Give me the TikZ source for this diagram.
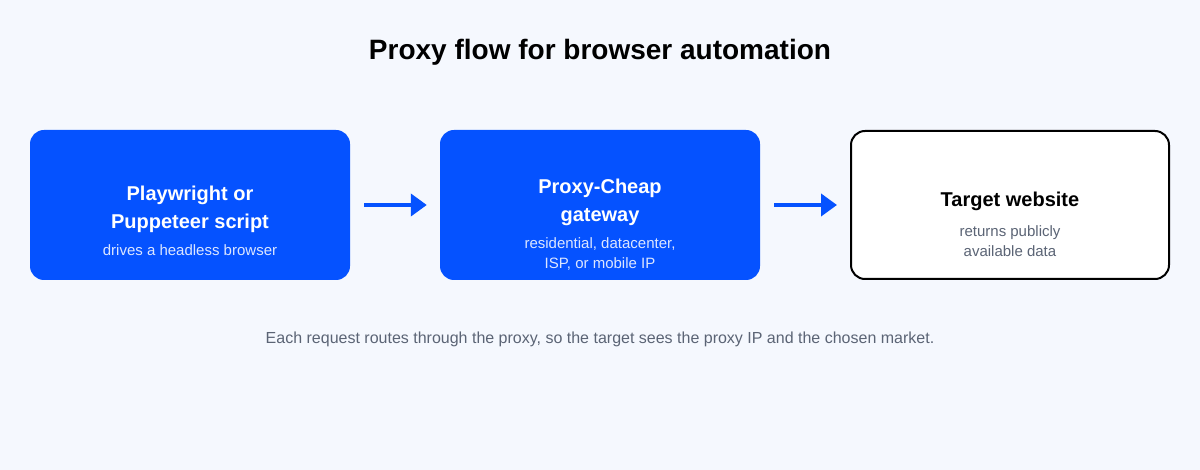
\documentclass[tikz,border=0pt]{standalone}
\usepackage{fontspec}
\setmainfont{Liberation Sans}
\usetikzlibrary{positioning,arrows.meta,calc}
\definecolor{flowblue}{HTML}{0552FF}
\definecolor{pagebg}{HTML}{F5F8FE}
\definecolor{subgrey}{HTML}{5B6475}
\definecolor{subpale}{HTML}{DCE6FF}
\begin{document}
\begin{tikzpicture}[x=1pt,y=-1pt,
    box/.style={rectangle, rounded corners=14pt, minimum width=320pt, minimum height=150pt, inner sep=0pt},
    bluebox/.style={box, fill=flowblue},
    whitebox/.style={box, minimum width=318pt, minimum height=148pt, fill=white, draw=black, line width=2pt},
    head/.style={font=\bfseries\fontsize{20}{28}\selectfont, align=center},
    sub/.style={font=\fontsize{15}{20}\selectfont, align=center},
    flow/.style={-{Triangle[length=16pt,width=22pt]}, line width=4pt, draw=flowblue, shorten <=14pt, shorten >=13pt}]
        \fill[pagebg] (0,0) rectangle (1200,470);
        \useasboundingbox (0,0) rectangle (1200,470);
        \node[font=\bfseries\fontsize{28}{34}\selectfont] (title) at (600,52) {Proxy flow for browser automation};
        % the three stages
        \node[bluebox] (script) at (190,205) {};
        \node[bluebox] (gateway) at (600,205) {};
        \node[whitebox] (target) at (1010,205) {};
        \node[head, text=white] (scripthead) at ($(script.center)+(0,4)$) {Playwright or\\Puppeteer script};
        \node[sub, text=subpale] (scriptsub) at ($(script.center)+(0,45)$) {drives a headless browser};
        \node[head, text=white] (gatewayhead) at ($(gateway.center)+(0,-3)$) {Proxy-Cheap\\gateway};
        \node[sub, text=subpale] (gatewaysub) at ($(gateway.center)+(0,49)$) {residential, datacenter,\\ISP, or mobile IP};
        \node[head, text=black] (targethead) at ($(target.center)+(0,-4)$) {Target website};
        \node[sub, text=subgrey] (targetsub) at ($(target.center)+(0,36)$) {returns publicly\\available data};
        \draw[flow] (script) -- (gateway);
        \draw[flow] (gateway) -- (target);
        \node[font=\fontsize{16}{20}\selectfont, text=subgrey] (footer) at (600,339) {Each request routes through the proxy, so the target sees the proxy IP and the chosen market.};
    \end{tikzpicture}
\end{document}
